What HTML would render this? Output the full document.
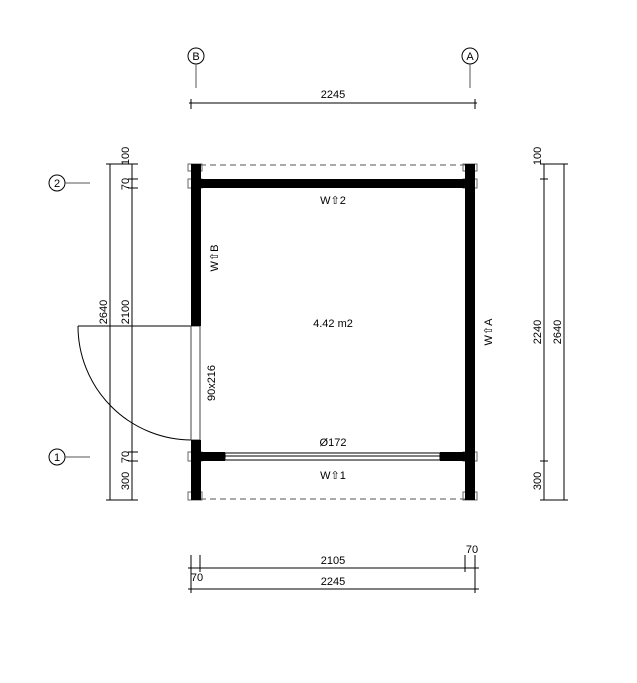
<!DOCTYPE html>
<html><head><style>body{margin:0;background:#fff}svg{display:block}text{font-family:"Liberation Sans",sans-serif;font-size:11px;fill:#000}</style></head><body>
<svg width="637" height="683" viewBox="0 0 637 683" xmlns="http://www.w3.org/2000/svg">
<g stroke="#000" stroke-width="1" fill="none">
<!-- grid markers -->
<circle cx="196" cy="56" r="8"/><circle cx="470" cy="56" r="8"/>
<line x1="196" y1="64" x2="196" y2="88" stroke="#555"/><line x1="470" y1="64" x2="470" y2="88" stroke="#555"/>
<circle cx="57" cy="183" r="8"/><circle cx="57" cy="457" r="8"/>
<line x1="65" y1="183" x2="90" y2="183" stroke="#555"/><line x1="65" y1="457" x2="90" y2="457" stroke="#555"/>
<!-- top dim -->
<line x1="189" y1="103" x2="477" y2="103"/><line x1="191" y1="99" x2="191" y2="109"/><line x1="475" y1="99" x2="475" y2="109"/>
<!-- left dims -->
<line x1="110" y1="164" x2="110" y2="500"/><line x1="132" y1="164" x2="132" y2="500"/>
<line x1="106" y1="164" x2="138" y2="164"/><line x1="106" y1="500" x2="138" y2="500"/>
<line x1="128" y1="179" x2="138" y2="179"/><line x1="128" y1="188" x2="138" y2="188"/>
<line x1="128" y1="452" x2="138" y2="452"/><line x1="128" y1="461" x2="138" y2="461"/>
<!-- right dims -->
<line x1="544" y1="164" x2="544" y2="500"/><line x1="564" y1="164" x2="564" y2="500"/>
<line x1="540" y1="164" x2="568" y2="164"/><line x1="540" y1="500" x2="568" y2="500"/>
<line x1="540" y1="179" x2="548" y2="179"/><line x1="540" y1="461" x2="548" y2="461"/>
<!-- bottom dims -->
<line x1="188" y1="568" x2="479" y2="568"/><line x1="188" y1="589" x2="479" y2="589"/>
<line x1="191" y1="555" x2="191" y2="593"/><line x1="200" y1="555" x2="200" y2="572"/>
<line x1="465" y1="555" x2="465" y2="572"/><line x1="475" y1="555" x2="475" y2="593"/>
<!-- dashed -->
<line x1="200" y1="165" x2="466" y2="165" stroke="#555" stroke-dasharray="6,4"/>
<line x1="200" y1="499" x2="466" y2="499" stroke="#555" stroke-dasharray="6,4"/>
<!-- door -->
<line x1="78" y1="326" x2="192" y2="326"/>
<path d="M78 326 A114 114 0 0 0 192 440"/>
<rect x="191" y="326" width="9" height="114" stroke="#444"/>
<!-- window -->
<rect x="225" y="453" width="215" height="7"/><line x1="225" y1="456" x2="440" y2="456"/>
<!-- post caps -->
<rect x="188" y="164" width="14" height="7" stroke="#666"/><rect x="188" y="179" width="14" height="9" stroke="#666"/>
<rect x="463" y="164" width="14" height="7" stroke="#666"/><rect x="463" y="179" width="14" height="9" stroke="#666"/>
<rect x="188" y="452" width="14" height="9" stroke="#666"/><rect x="188" y="492" width="14" height="8" stroke="#666"/>
<rect x="463" y="452" width="14" height="9" stroke="#666"/><rect x="463" y="492" width="14" height="8" stroke="#666"/>
</g>
<g fill="#000">
<rect x="191" y="164" width="10" height="162"/><rect x="191" y="440" width="10" height="60"/>
<rect x="465" y="164" width="10" height="336"/>
<rect x="200" y="179" width="266" height="9"/>
<rect x="200" y="452" width="25" height="9"/><rect x="440" y="452" width="26" height="9"/>
</g>
<text x="196" y="60" text-anchor="middle">B</text><text x="470" y="60" text-anchor="middle">A</text>
<text x="57" y="187" text-anchor="middle">2</text><text x="57" y="461" text-anchor="middle">1</text>
<text x="333" y="98" text-anchor="middle">2245</text>
<text x="333" y="327" text-anchor="middle" font-size="13">4.42 m2</text>
<text x="333" y="446" text-anchor="middle">Ø172</text>
<text x="333" y="204" text-anchor="middle">W⇧2</text>
<text x="333" y="479" text-anchor="middle">W⇧1</text>
<text x="333" y="564" text-anchor="middle">2105</text>
<text x="333" y="585" text-anchor="middle">2245</text>
<text x="472" y="553" text-anchor="middle">70</text>
<text x="197" y="581" text-anchor="middle">70</text>
<g>
<text transform="translate(107,312) rotate(-90)" text-anchor="middle">2640</text>
<text transform="translate(129,312) rotate(-90)" text-anchor="middle">2100</text>
<text transform="translate(129,156) rotate(-90)" text-anchor="middle">100</text>
<text transform="translate(129,184) rotate(-90)" text-anchor="middle">70</text>
<text transform="translate(129,457) rotate(-90)" text-anchor="middle">70</text>
<text transform="translate(129,481) rotate(-90)" text-anchor="middle">300</text>
<text transform="translate(541,156) rotate(-90)" text-anchor="middle">100</text>
<text transform="translate(541,332) rotate(-90)" text-anchor="middle">2240</text>
<text transform="translate(561,332) rotate(-90)" text-anchor="middle">2640</text>
<text transform="translate(541,481) rotate(-90)" text-anchor="middle">300</text>
<text transform="translate(215,383) rotate(-90)" text-anchor="middle">90x216</text>
<text transform="translate(218,258) rotate(-90)" text-anchor="middle">W⇧B</text>
<text transform="translate(492,332) rotate(-90)" text-anchor="middle">W⇧A</text>
</g>
</svg>
</body></html>
